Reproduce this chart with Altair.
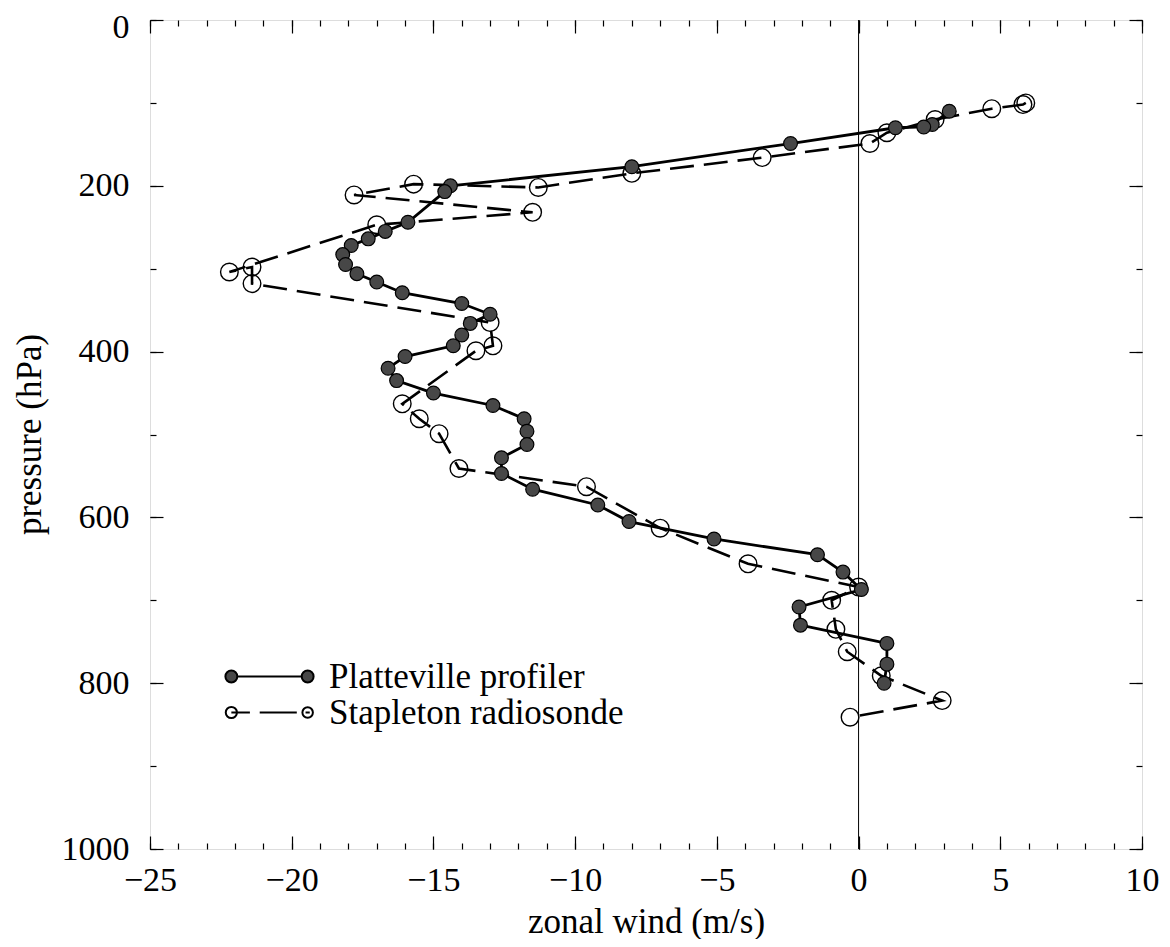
import altair as alt
import pandas as pd

# ---------------- data ----------------
prof_wind = [3.2, 2.6, 2.3, 1.3, -2.4, -8.0, -14.4, -14.6, -15.9, -16.7, -17.3, -17.9,
             -18.2, -18.1, -17.7, -17.0, -16.1, -14.0, -13.0, -13.7, -14.0, -14.3, -16.0,
             -16.6, -16.3, -15.0, -12.9, -11.8, -11.7, -11.7, -12.6, -12.6, -11.5, -9.2,
             -8.1, -5.1, -1.45, -0.55, 0.1, -2.1, -2.05, 1.0, 1.0, 0.9]
prof_pres = [110, 126, 129, 130, 149, 177, 200, 207, 244, 255, 264, 272,
             283, 295, 306, 316, 329, 342, 355, 366, 380, 393, 406,
             420, 435, 450, 465, 481, 496, 512, 528, 547, 566, 585,
             605, 626, 645, 666, 687, 708, 730, 752, 777, 800]

sonde_wind = [5.9, 5.8, 4.7, 2.7, 1.0, 0.4, -3.4, -8.0, -11.3, -15.7, -17.8, -11.5,
              -17.0, -22.2, -21.4, -21.4, -13.0, -12.9, -13.5, -16.1, -15.5, -14.8,
              -14.1, -9.6, -7.0, -3.9, 0.0, -0.95, -0.8, -0.4, 0.8, 2.95, -0.3]
sonde_pres = [100, 102, 107, 120, 136, 149, 166, 185, 202, 198, 211, 232,
              247, 304, 298, 318, 365, 393, 399, 463, 481, 499,
              541, 563, 613, 656, 684, 700, 735, 762, 791, 821, 841]

series_names = ["Platteville profiler", "Stapleton radiosonde"]
x_major = [-25, -20, -15, -10, -5, 0, 5, 10]
y_major = [0, 200, 400, 600, 800, 1000]
x_minor = list(range(-25, 11))
y_minor = list(range(0, 1001, 100))
zero_line = [0]

FONT = "Liberation Serif"

prof = pd.DataFrame({"wind": prof_wind, "pressure": prof_pres,
                     "idx": list(range(len(prof_wind))), "series": series_names[0]})
sonde = pd.DataFrame({"wind": sonde_wind, "pressure": sonde_pres,
                      "idx": list(range(len(sonde_wind))), "series": series_names[1]})
both = pd.concat([prof, sonde], ignore_index=True)

xscale = alt.Scale(domain=[-25, 10], nice=False, zero=False)
yscale = alt.Scale(domain=[0, 1000], reverse=True, nice=False, zero=False)


# ---------------- legend symbol paths (circle - line - circle) ----------------
def circ(cx, r):
    k = 0.5523 * r
    return (f"M {cx + r} 0 C {cx + r} {k} {cx + k} {r} {cx} {r} "
            f"C {cx - k} {r} {cx - r} {k} {cx - r} 0 "
            f"C {cx - r} {-k} {cx - k} {-r} {cx} {-r} "
            f"C {cx + k} {-r} {cx + r} {-k} {cx + r} 0 Z ")


C = 5.45
R = 0.85
path_solid = circ(-C, R) + circ(C, R) + f"M {-C + R} 0 L {C - R} 0"
path_dash = (circ(-C, 0.8) + circ(C, 0.75)
             + f"M {-C} 0 L -2.8 0 M -1.4 0 L 3.9 0 M {C - 0.3} 0 L {C + 0.3} 0")


def enc(xaxis=None, yaxis=None):
    return dict(x=alt.X("wind:Q", scale=xscale, axis=xaxis),
                y=alt.Y("pressure:Q", scale=yscale, axis=yaxis))


# ---------------- data layers ----------------
zero = alt.Chart(pd.DataFrame({"z": zero_line})).mark_rule(color="black", strokeWidth=1).encode(
    x=alt.X("z:Q", scale=xscale, axis=None))

sonde_line = alt.Chart(sonde).mark_line(color="black", strokeWidth=2.6, strokeDash=[24, 10]).encode(
    order="idx:Q", **enc())
sonde_pts = alt.Chart(sonde).mark_point(shape="circle", size=310, filled=False, color="black",
                                        strokeWidth=1.4, opacity=1).encode(**enc())
prof_line = alt.Chart(prof).mark_line(color="black", strokeWidth=2.8).encode(order="idx:Q", **enc())
prof_pts = alt.Chart(prof).mark_point(shape="circle", size=190, filled=True, fill="#474747",
                                      stroke="black", strokeWidth=1.2, opacity=1).encode(**enc())

leg = alt.Legend(title=None, orient="none", legendX=102, legendY=639, padding=0,
                 labelFont=FONT, labelFontSize=35, labelColor="black", labelLimit=600,
                 labelOffset=42, symbolSize=196, symbolStrokeWidth=2,
                 symbolStrokeColor="black", rowPadding=0)
legend_layer = alt.Chart(both).transform_filter("datum.pressure < -1").mark_point(
    filled=True, strokeWidth=2, size=196, opacity=1).encode(
    fill=alt.Fill("series:N", scale=alt.Scale(domain=series_names, range=["#474747", "white"]), legend=leg),
    stroke=alt.Stroke("series:N", scale=alt.Scale(domain=series_names, range=["black", "black"]), legend=leg),
    shape=alt.Shape("series:N", scale=alt.Scale(domain=series_names, range=[path_solid, path_dash]), legend=leg),
    **enc())

# ---------------- axes (labels outside, ticks inside, mirrored) ----------------
common = dict(grid=False, domain=False)
lab_x = alt.Axis(orient="bottom", values=x_major, format="d", ticks=False, tickSize=0, labelPadding=14,
                 labelFont=FONT, labelFontSize=34, labelColor="black", labelFlush=False,
                 labelOverlap=False, title="zonal wind (m/s)", titleFont=FONT, titleFontSize=35,
                 titleFontWeight="normal", titleColor="black", titleY=55, **common)
lab_y = alt.Axis(orient="left", values=y_major, format="d", ticks=False, tickSize=0, labelPadding=21,
                 labelOffset={"condition": {"test": "datum.value === 0", "value": 7}, "value": 0},
                 labelFont=FONT, labelFontSize=34, labelColor="black", labelFlush=False,
                 labelOverlap=False, title="pressure (hPa)", titleFont=FONT, titleFontSize=35,
                 titleFontWeight="normal", titleColor="black", titleX=-103, titleY=414, **common)


def tick_axis(orient, values, size):
    return alt.Axis(orient=orient, values=values, labels=False, ticks=True, tickSize=size,
                    offset=-size, tickColor="black", tickWidth=1.2, title=None, **common)


def axis_layer(xa, ya):
    return alt.Chart(prof).mark_point(opacity=0).encode(**enc(xa, ya))


axes = [
    axis_layer(lab_x, lab_y),
    axis_layer(tick_axis("bottom", x_major, 13), tick_axis("left", y_major, 13)),
    axis_layer(tick_axis("bottom", x_minor, 6), tick_axis("left", y_minor, 6)),
    axis_layer(tick_axis("top", x_major, 13), tick_axis("right", y_major, 13)),
    axis_layer(tick_axis("top", x_minor, 6), tick_axis("right", y_minor, 6)),
]

chart = alt.layer(zero, sonde_line, sonde_pts, prof_line, prof_pts, legend_layer, *axes).resolve_axis(
    x="independent", y="independent").properties(
    width=992, height=829,
    autosize=alt.AutoSizeParams(type="none"),
    padding={"left": 142, "top": 12, "right": 20, "bottom": 90},
    background="white",
).configure_view(stroke="black", strokeWidth=1.5).configure(font=FONT)

chart.save("out.html", embed_options={"renderer": "svg", "actions": False})
